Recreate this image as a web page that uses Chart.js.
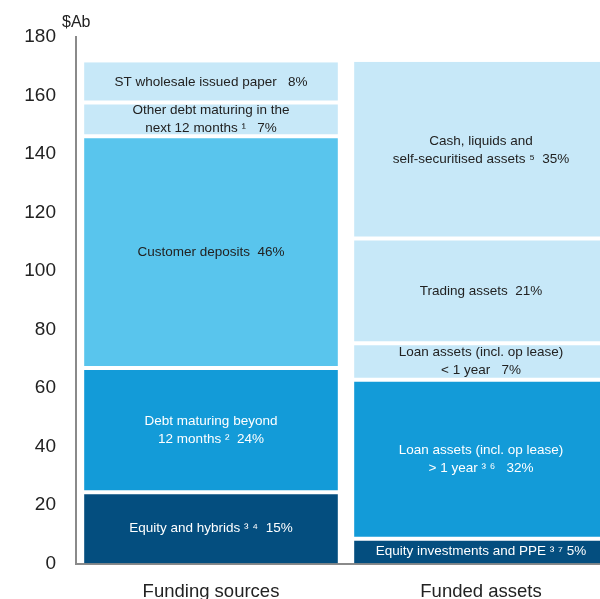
<!DOCTYPE html>
<html>
<head>
<meta charset="utf-8">
<script src="https://cdn.jsdelivr.net/npm/chart.js@4.4.1/dist/chart.umd.min.js"></script>
<style>
  html, body { margin: 0; padding: 0; background: #fff; overflow: hidden; }
  #fundingChart { display: block; }
</style>
</head>
<body>
<canvas id="fundingChart" width="616" height="599"></canvas>
<script>
const categories = ['Funding sources', 'Funded assets'];

// $Ab, each list stacked from the bottom up
const fundingValues = [24.4, 42.4, 79.3, 11.5, 13.8];
const assetValues = [8.5, 54.3, 12.5, 35.8, 60.4];

const fundingLabels = [
    ['Equity and hybrids \u00b3 \u2074  15%'],
    ['Debt maturing beyond', '12 months \u00b2  24%'],
    ['Customer deposits  46%'],
    ['Other debt maturing in the', 'next 12 months \u00b9   7%'],
    ['ST wholesale issued paper   8%']
];
const assetLabels = [
    ['Equity investments and PPE \u00b3 \u2077 5%'],
    ['Loan assets (incl. op lease)', '> 1 year \u00b3 \u2076   32%'],
    ['Loan assets (incl. op lease)', '< 1 year   7%'],
    ['Trading assets  21%'],
    ['Cash, liquids and', 'self-securitised assets \u2075  35%']
];

const NAVY = '#044e7f';
const MID = '#139bd8';
const LIGHT = '#59c5ed';
const PALE = '#c7e8f8';
const fundingColors = [NAVY, MID, LIGHT, PALE, PALE];
const assetColors = [NAVY, MID, PALE, PALE, PALE];

const axisFont = "'Liberation Sans', Arial, sans-serif";
const textDark = '#222222';

function textFor(fill) {
    return fill === NAVY || fill === MID ? '#ffffff' : textDark;
}

const datasets = fundingValues.map((v, i) => ({
    label: 'layer ' + i,
    data: [v, assetValues[i]],
    backgroundColor: [fundingColors[i], assetColors[i]],
    borderColor: '#ffffff',
    borderWidth: {
        top: i === fundingValues.length - 1 ? 0 : 2,
        bottom: i === 0 ? 0 : 2,
        left: 0,
        right: 0
    },
    borderSkipped: false,
    segmentText: [fundingLabels[i], assetLabels[i]],
    textColor: [textFor(fundingColors[i]), textFor(assetColors[i])]
}));

const segmentLabels = {
    id: 'segmentLabels',
    afterDatasetsDraw(chart) {
        const ctx = chart.ctx;
        ctx.save();
        ctx.font = '13.5px ' + axisFont;
        ctx.textAlign = 'center';
        ctx.textBaseline = 'middle';
        chart.data.datasets.forEach((ds, i) => {
            chart.getDatasetMeta(i).data.forEach((bar, j) => {
                const lines = ds.segmentText[j];
                const cy = (bar.y + bar.base) / 2;
                const lh = 17.5;
                ctx.fillStyle = ds.textColor[j];
                lines.forEach((line, k) => {
                    ctx.fillText(line, bar.x, cy + (k - (lines.length - 1) / 2) * lh);
                });
            });
        });
        ctx.restore();
    }
};

const unitLabel = {
    id: 'unitLabel',
    afterDraw(chart) {
        const ctx = chart.ctx;
        ctx.save();
        ctx.font = '16px ' + axisFont;
        ctx.fillStyle = textDark;
        ctx.textAlign = 'left';
        ctx.textBaseline = 'alphabetic';
        ctx.fillText('$Ab', chart.chartArea.left - 14, chart.chartArea.top - 10);
        ctx.restore();
    }
};

const ctx = document.getElementById('fundingChart').getContext('2d');
new Chart(ctx, {
    type: 'bar',
    data: { labels: categories, datasets: datasets },
    plugins: [segmentLabels, unitLabel],
    options: {
        responsive: false,
        animation: false,
        layout: { padding: { top: 37, right: 0, left: 0, bottom: 0 } },
        datasets: { bar: { categoryPercentage: 1, barPercentage: 0.94 } },
        plugins: {
            legend: { display: false },
            tooltip: { enabled: false }
        },
        scales: {
            x: {
                stacked: true,
                grid: { display: false },
                border: { color: '#8a8a8a', width: 2 },
                ticks: { color: textDark, font: { family: axisFont, size: 18.5 }, padding: 9 },
                afterFit: scale => { scale.height = 35.5; }
            },
            y: {
                stacked: true,
                min: 0,
                max: 180,
                grid: { display: false },
                border: { color: '#8a8a8a', width: 2 },
                ticks: { stepSize: 20, color: textDark, font: { family: axisFont, size: 19 }, padding: 12 },
                afterFit: scale => { scale.width = 76; }
            }
        }
    }
});
</script>
</body>
</html>
